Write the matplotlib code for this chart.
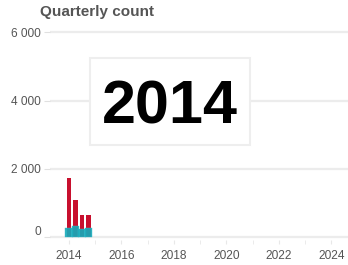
import matplotlib
matplotlib.use("Agg")
import matplotlib.pyplot as plt
import matplotlib.transforms as mtransforms
from matplotlib.patches import Rectangle
from matplotlib.ticker import FuncFormatter, MultipleLocator

plt.rcParams['font.family'] = ['Liberation Sans', 'DejaVu Sans']

# quarters of 2014 as decimal years
quarters = [2014.0, 2014.25, 2014.5, 2014.75]
total_counts = [1740, 1090, 650, 650]
sub_counts = [275, 325, 245, 275]
year_ticks = [2014, 2016, 2018, 2020, 2022, 2024]
count_ticks = [0, 2000, 4000, 6000]
current_year = "2014"

W, H = 348, 265
fig = plt.figure(figsize=(W / 100, H / 100), dpi=100)
ax = fig.add_axes([50 / W, 1 - 240 / H, 298 / W, 210 / H])

ax.bar(quarters, total_counts, width=0.168, color='#c8102e', zorder=2)
ax.bar(quarters, sub_counts, width=0.28, color='#17a9b9', alpha=0.92,
       edgecolor='#3fbccb', linewidth=0.3, zorder=3)

ax.set_xlim(2013.28, 2024.63)
ax.set_ylim(-80, 6070)
ax.set_xticks(year_ticks)
ax.xaxis.set_minor_locator(MultipleLocator(1))
ax.set_yticks(count_ticks)
ax.yaxis.set_major_formatter(FuncFormatter(lambda v, p: f"{v:,.0f}".replace(",", " ")))

ax.grid(axis='y', color='#ececec', linewidth=1.6, zorder=0)
ax.set_axisbelow(True)
for s in ax.spines.values():
    s.set_visible(False)
ax.tick_params(axis='y', length=4, color='#e0e0e0', pad=2.5, labelsize=8.6, labelcolor='#555555')
ax.tick_params(axis='x', which='both', length=3, color='#e8e8e8', pad=4, labelsize=8.6, labelcolor='#555555')

# the zero label sits a little above its gridline
fig.canvas.draw()
zero_label = ax.get_yticklabels()[0]
zero_label.set_transform(zero_label.get_transform() +
                         mtransforms.ScaledTranslation(0, 6.5 / 100, fig.dpi_scale_trans))

fig.text(40 / W, 1 - 16 / H, 'Quarterly count', fontsize=11, fontweight='bold',
         color='#555555', va='baseline', ha='left')

# year label box
fig.patches.append(Rectangle((90 / W, 1 - 145 / H), 160 / W, 87 / H,
                             transform=fig.transFigure, facecolor='white',
                             edgecolor='#eeeeee', linewidth=1.5, zorder=5))
fig.text(170 / W, 1 - 123.3 / H, current_year, fontsize=44, fontweight='bold',
         color='black', ha='center', va='baseline', zorder=6)

fig.savefig('out.png', dpi=100)
